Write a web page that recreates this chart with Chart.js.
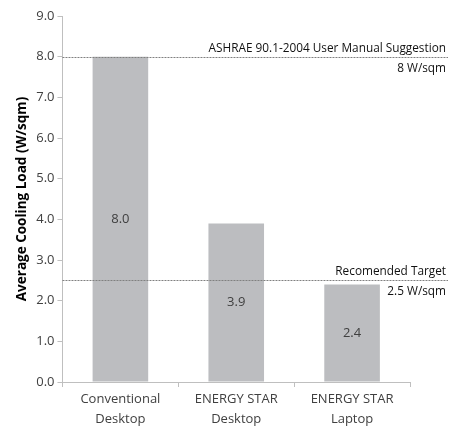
<!DOCTYPE html>
<html>
<head>
<meta charset="utf-8">
<script src="https://cdn.jsdelivr.net/npm/chart.js@4/dist/chart.umd.min.js"></script>
<style>
  html, body { margin: 0; padding: 0; background: #fff; }
  #wrap { width: 452px; height: 426px; }
</style>
</head>
<body>
<div id="wrap"><canvas id="loadChart" width="452" height="426"></canvas></div>
<script>
// データ
const categories = [['Conventional', 'Desktop'], ['ENERGY STAR', 'Desktop'], ['ENERGY STAR', 'Laptop']];
const coolingLoad = [8.0, 3.9, 2.4];

// 参照線
const refValues = [8, 2.5];
const refTitles = ['ASHRAE 90.1-2004 User Manual Suggestion', 'Recomended Target'];
const refSubtitles = ['8 W/sqm', '2.5 W/sqm'];

const textColor = '#404040';
const fontFamily = '"Open Sans", "DejaVu Sans", sans-serif';

// 棒の中央に値を描く
const valueLabels = {
    id: 'valueLabels',
    afterDatasetsDraw(chart) {
        const ctx = chart.ctx;
        const meta = chart.getDatasetMeta(0);
        ctx.save();
        ctx.font = '13px ' + fontFamily;
        ctx.fillStyle = textColor;
        ctx.textAlign = 'center';
        ctx.textBaseline = 'middle';
        meta.data.forEach((bar, i) => {
            ctx.fillText(coolingLoad[i].toFixed(1), bar.x, (bar.y + bar.base) / 2);
        });
        ctx.restore();
    }
};

// 点線の参照線とラベル
const refLines = {
    id: 'refLines',
    afterDatasetsDraw(chart) {
        const ctx = chart.ctx;
        const y = chart.scales.y;
        const left = chart.chartArea.left;
        const right = chart.width - 4;
        ctx.save();
        refValues.forEach((v, i) => {
            const py = Math.round(y.getPixelForValue(v)) + 0.5;
            ctx.strokeStyle = '#808080';
            ctx.lineWidth = 1;
            ctx.setLineDash([2, 1]);
            ctx.beginPath();
            ctx.moveTo(left, py);
            ctx.lineTo(right, py);
            ctx.stroke();
            ctx.font = '11.8px ' + fontFamily;
            ctx.fillStyle = '#111';
            ctx.textAlign = 'right';
            ctx.textBaseline = 'middle';
            ctx.fillText(refTitles[i], right - 2, py - 9);
            ctx.fillText(refSubtitles[i], right - 2, py + 11);
        });
        ctx.restore();
    }
};

const ctx = document.getElementById('loadChart').getContext('2d');
new Chart(ctx, {
    type: 'bar',
    data: {
        labels: categories,
        datasets: [{
            data: coolingLoad,
            backgroundColor: '#bcbdc0',
            barPercentage: 0.48,
            categoryPercentage: 1
        }]
    },
    options: {
        responsive: false,
        animation: false,
        layout: { padding: { top: 16, right: 42, left: 14, bottom: -6 } },
        plugins: {
            legend: { display: false },
            tooltip: { enabled: false }
        },
        scales: {
            x: {
                grid: { drawOnChartArea: false, drawTicks: true, tickLength: 5, color: '#bfbfbf' },
                border: { color: '#bfbfbf' },
                ticks: { color: textColor, font: { family: fontFamily, size: 13, lineHeight: 1.5 }, maxRotation: 0, padding: 3 }
            },
            y: {
                min: 0,
                max: 9,
                grid: { drawOnChartArea: false, drawTicks: true, tickLength: 5, color: '#bfbfbf' },
                border: { color: '#bfbfbf' },
                ticks: {
                    stepSize: 1,
                    color: textColor,
                    font: { family: fontFamily, size: 13 },
                    padding: 3,
                    callback: v => v.toFixed(1)
                },
                title: {
                    display: true,
                    text: 'Average Cooling Load (W/sqm)',
                    color: '#000',
                    font: { family: fontFamily, size: 13.5, weight: 'bold' },
                    padding: { top: 0, bottom: 3 }
                }
            }
        }
    },
    plugins: [valueLabels, refLines]
});
</script>
</body>
</html>
